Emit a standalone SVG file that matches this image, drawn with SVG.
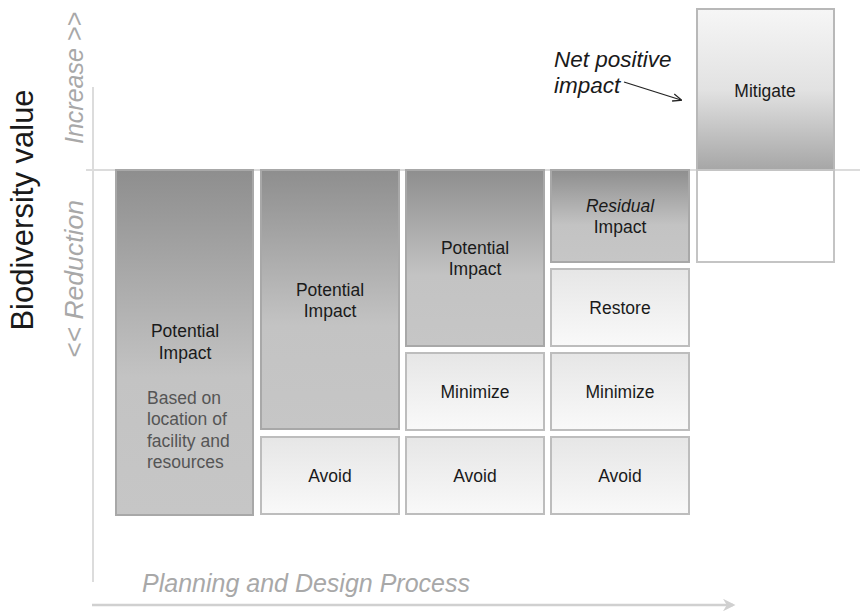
<svg xmlns="http://www.w3.org/2000/svg" width="860" height="613" viewBox="0 0 860 613">
  <defs>
    <linearGradient id="gDark" x1="0" y1="0" x2="0" y2="1">
      <stop offset="0" stop-color="#8e8e8e"/>
      <stop offset="0.6" stop-color="#c3c3c3"/>
      <stop offset="1" stop-color="#c6c6c6"/>
    </linearGradient>
    <linearGradient id="gLight" x1="0" y1="0" x2="0" y2="1">
      <stop offset="0" stop-color="#e6e6e6"/>
      <stop offset="1" stop-color="#f9f9f9"/>
    </linearGradient>
    <linearGradient id="gMit" x1="0" y1="0" x2="0" y2="1">
      <stop offset="0" stop-color="#f6f6f6"/>
      <stop offset="0.5" stop-color="#e2e2e2"/>
      <stop offset="1" stop-color="#a6a6a6"/>
    </linearGradient>
    <marker id="axisHead" viewBox="0 0 10 10" refX="8" refY="5" markerWidth="5" markerHeight="5" orient="auto">
      <path d="M0,0 L10,5 L0,10 L3,5 Z" fill="#d0d0d0"/>
    </marker>
    <marker id="noteHead" viewBox="0 0 10 10" refX="9" refY="5" markerWidth="7" markerHeight="7" orient="auto">
      <path d="M0,1 L10,5 L0,9" fill="none" stroke="#222" stroke-width="1.4"/>
    </marker>
  </defs>
  <style>
    .dark { fill: url(#gDark); stroke: #a8a8a8; stroke-width: 2; }
    .light { fill: url(#gLight); stroke: #bdbdbd; stroke-width: 2; }
    .lbl { font-family: "Liberation Sans", Arial, sans-serif; font-size: 17.5px; fill: #1a1a1a; text-anchor: middle; }
    .sub { font-family: "Liberation Sans", Arial, sans-serif; font-size: 17.5px; fill: #555; }
    .axis { font-family: "Liberation Sans", Arial, sans-serif; font-style: italic; fill: #a8a8a8; }
    .note { font-family: "Liberation Sans", Arial, sans-serif; font-size: 22.5px; font-style: italic; fill: #1a1a1a; }
  </style>

  <rect width="860" height="613" fill="#fff"/>

  <!-- axes and pointer -->
  <g id="connectors">
    <line x1="93" y1="87" x2="93" y2="582" stroke="#dcdcdc" stroke-width="2"/>
    <line x1="86" y1="170" x2="860" y2="170" stroke="#dcdcdc" stroke-width="2"/>
    <line x1="92" y1="605" x2="733" y2="605" stroke="#d0d0d0" stroke-width="2.5" marker-end="url(#axisHead)"/>
    <line x1="624" y1="82" x2="681" y2="100" stroke="#222" stroke-width="1.3" marker-end="url(#noteHead)"/>
  </g>

  <!-- axis titles -->
  <text transform="translate(33 210) rotate(-90)" text-anchor="middle" font-family="Liberation Sans, Arial, sans-serif" font-size="31" fill="#1a1a1a">Biodiversity value</text>
  <text class="axis" font-size="25" transform="translate(83 78) rotate(-90)" text-anchor="middle">Increase &gt;&gt;</text>
  <text class="axis" font-size="25" transform="translate(83 279) rotate(-90)" text-anchor="middle" textLength="158" lengthAdjust="spacingAndGlyphs">&lt;&lt; Reduction</text>
  <text class="axis" font-size="25" x="142" y="592">Planning and Design Process</text>

  <!-- column 1 -->
  <g id="col1-potential">
    <rect class="dark" x="116" y="170" width="137" height="345"/>
    <text class="lbl" x="185" y="337">Potential</text>
    <text class="lbl" x="185" y="359">Impact</text>
    <text class="sub" x="147" y="404">Based on</text>
    <text class="sub" x="147" y="425">location of</text>
    <text class="sub" x="147" y="447">facility and</text>
    <text class="sub" x="147" y="468">resources</text>
  </g>

  <!-- column 2 -->
  <g id="col2-potential">
    <rect class="dark" x="261" y="170" width="138" height="259"/>
    <text class="lbl" x="330" y="296">Potential</text>
    <text class="lbl" x="330" y="317">Impact</text>
  </g>
  <g id="col2-avoid">
    <rect class="light" x="261" y="437" width="138" height="77"/>
    <text class="lbl" x="330" y="482">Avoid</text>
  </g>

  <!-- column 3 -->
  <g id="col3-potential">
    <rect class="dark" x="406" y="170" width="138" height="176"/>
    <text class="lbl" x="475" y="254">Potential</text>
    <text class="lbl" x="475" y="275">Impact</text>
  </g>
  <g id="col3-minimize">
    <rect class="light" x="406" y="353" width="138" height="77"/>
    <text class="lbl" x="475" y="398">Minimize</text>
  </g>
  <g id="col3-avoid">
    <rect class="light" x="406" y="437" width="138" height="77"/>
    <text class="lbl" x="475" y="482">Avoid</text>
  </g>

  <!-- column 4 -->
  <g id="col4-residual">
    <rect class="dark" x="551" y="170" width="138" height="92"/>
    <text class="lbl" x="620" y="212" font-style="italic">Residual</text>
    <text class="lbl" x="620" y="233">Impact</text>
  </g>
  <g id="col4-restore">
    <rect class="light" x="551" y="269" width="138" height="77"/>
    <text class="lbl" x="620" y="314">Restore</text>
  </g>
  <g id="col4-minimize">
    <rect class="light" x="551" y="353" width="138" height="77"/>
    <text class="lbl" x="620" y="398">Minimize</text>
  </g>
  <g id="col4-avoid">
    <rect class="light" x="551" y="437" width="138" height="77"/>
    <text class="lbl" x="620" y="482">Avoid</text>
  </g>

  <!-- column 5 -->
  <g id="col5-mitigate">
    <rect x="697" y="9" width="137" height="161" fill="url(#gMit)" stroke="#b8b8b8" stroke-width="2"/>
    <text class="lbl" x="765" y="97" font-size="20">Mitigate</text>
  </g>
  <g id="col5-offset">
    <rect x="697" y="170" width="137" height="92" fill="#fff" stroke="#c4c4c4" stroke-width="2"/>
  </g>

  <!-- annotation -->
  <g id="note">
    <text class="note" x="554" y="67">Net positive</text>
    <text class="note" x="554" y="93">impact</text>
  </g>
</svg>
